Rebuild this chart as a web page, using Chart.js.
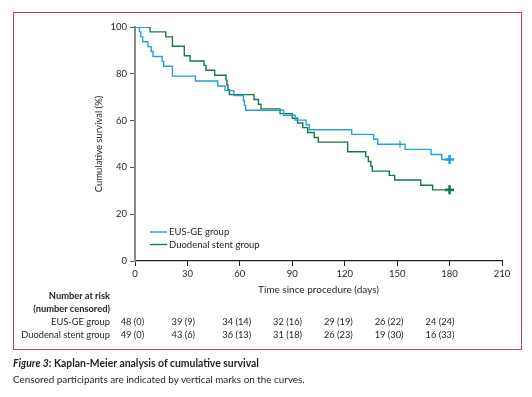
<!DOCTYPE html>
<html>
<head>
<meta charset="utf-8">
<script src="https://cdn.jsdelivr.net/npm/chart.js@4/dist/chart.umd.min.js"></script>
<style>
body{margin:0;background:#fff;font-family:Lato,sans-serif;color:#231f20;}
#wrap{position:relative;width:532px;height:397px;overflow:hidden;}
#km{position:absolute;left:0;top:0;}
#frame{position:absolute;left:13px;top:12px;width:509px;height:338px;box-sizing:border-box;border:1.5px solid #d23d6b;pointer-events:none;}
.t{position:absolute;font-size:9.3px;line-height:12px;white-space:nowrap;}
.lab{right:422px;text-align:right;}
.b{font-weight:bold;}
.cap1{left:13px;top:357px;font-size:10.4px;font-weight:bold;}
.cap2{left:13px;top:373px;font-size:9.9px;}
</style>
</head>
<body>
<div id="wrap">
  <canvas id="km" width="532" height="300"></canvas>
  <div id="frame"></div>
  <div class="t lab b" style="top:290px">Number at risk</div>
  <div class="t lab b" style="top:303px">(number censored)</div>
  <div class="t lab" style="top:316px">EUS-GE group</div>
  <div class="t lab" style="top:329px">Duodenal stent group</div>
  <div class="t cap1"><i>Figure 3</i>: Kaplan-Meier analysis of cumulative survival</div>
  <div class="t cap2">Censored participants are indicated by vertical marks on the curves.</div>
</div>
<script>
// EUS-GE group (days, survival %)
var eusDays = [0, 2.5, 3.3, 4.4, 7.4, 9.3, 10.3, 15.6, 16.4, 21.4, 34.6, 47.3, 51.5, 56.6, 62.0, 62.6, 63.3, 85.0, 91.6, 97.9, 99.8, 124.0, 136.6, 138.9, 151.6, 154.5, 169.4, 175.5, 180];
var eusSurv = [100, 97.9, 95.8, 93.7, 91.6, 89.5, 87.4, 85.3, 83.2, 79.0, 76.9, 74.8, 72.8, 70.7, 68.6, 66.5, 64.4, 62.3, 60.2, 58.2, 56.1, 54.1, 52.0, 49.9, 49.9, 47.7, 45.5, 43.4, 43.4];
var eusCensorDays = [151.6];

// Duodenal stent group
var dsDays = [0, 8.6, 17.6, 21.4, 28.2, 31.5, 39.5, 40.6, 45.6, 52.1, 52.6, 53.2, 54.0, 68.1, 70.6, 72.1, 83.0, 90.0, 93.0, 96.0, 98.8, 102.6, 104.9, 121.7, 132.0, 133.5, 135.0, 135.8, 145.5, 148.6, 163.5, 170.3, 180];
var dsSurv = [100, 97.9, 95.8, 91.8, 87.7, 85.5, 83.6, 81.5, 79.4, 77.3, 75.2, 73.2, 71.1, 69.0, 67.0, 65.0, 63.0, 61.0, 59.0, 57.0, 54.9, 52.8, 50.8, 46.7, 44.6, 42.5, 40.5, 38.4, 36.6, 34.6, 32.4, 30.4, 30.4];
var dsCensorDays = [];

// number at risk table
var riskDays = [0, 30, 60, 90, 120, 150, 180];
var eusAtRisk = [48, 39, 34, 32, 29, 26, 24];
var eusCensored = [0, 9, 14, 16, 19, 22, 24];
var dsAtRisk = [49, 43, 36, 31, 26, 19, 16];
var dsCensored = [0, 6, 13, 18, 23, 30, 33];

var xTicks = [0, 30, 60, 90, 120, 150, 180, 210];
var yTicks = [0, 20, 40, 60, 80, 100];

var TXT = '#231f20';
var BLUE = '#22a3d3';
var GREEN = '#167a46';

function toPoints(days, surv){
	var pts = [];
	for(var i=0;i<days.length;i++){
		pts.push({x: days[i], y: surv[i]});
	}
	return pts;
}

function markStyle(days, censor){
	return {
		radius: function(c){
			var d = days[c.dataIndex];
			if(c.dataIndex == days.length-1) return 4.5;
			if(censor.indexOf(d) >= 0) return 3.5;
			return 0;
		},
		style: function(c){
			if(c.dataIndex == days.length-1) return 'cross';
			return 'line';
		},
		rotation: function(c){
			return c.dataIndex == days.length-1 ? 0 : 90;
		},
		width: function(c){
			return c.dataIndex == days.length-1 ? 2.6 : 1.2;
		}
	};
}

function makeDataset(label, days, surv, censor, color){
	var m = markStyle(days, censor);
	return {
		label: label,
		data: toPoints(days, surv),
		borderColor: color,
		backgroundColor: color,
		borderWidth: 1.4,
		stepped: true,
		fill: false,
		pointRadius: m.radius,
		pointStyle: m.style,
		pointRotation: m.rotation,
		pointBorderWidth: m.width,
		pointBorderColor: color
	};
}

// legend drawn inside the plot, bottom left
var kmLegend = {
	id: 'kmLegend',
	afterDatasetsDraw: function(chart){
		var ctx = chart.ctx;
		var a = chart.chartArea;
		var rows = [a.bottom - 29, a.bottom - 16.5];
		ctx.save();
		ctx.font = '9.5px Lato';
		ctx.textBaseline = 'middle';
		chart.data.datasets.forEach(function(ds, i){
			var y = rows[i];
			ctx.strokeStyle = ds.borderColor;
			ctx.lineWidth = 1.4;
			ctx.beginPath();
			ctx.moveTo(a.left + 15, y);
			ctx.lineTo(a.left + 32, y);
			ctx.stroke();
			ctx.fillStyle = TXT;
			ctx.fillText(ds.label, a.left + 34, y);
		});
		ctx.restore();
	}
};

var ctx = document.getElementById('km').getContext('2d');
var chart = new Chart(ctx, {
	type: 'line',
	data: {
		datasets: [
			makeDataset('EUS-GE group', eusDays, eusSurv, eusCensorDays, BLUE),
			makeDataset('Duodenal stent group', dsDays, dsSurv, dsCensorDays, GREEN)
		]
	},
	options: {
		responsive: false,
		animation: false,
		layout: {padding: {left: 90, top: 27, right: 30, bottom: 0}},
		plugins: {legend: {display: false}, tooltip: {enabled: false}},
		scales: {
			x: {
				type: 'linear', min: 0, max: 210,
				afterBuildTicks: function(s){ s.ticks = xTicks.map(function(v){return {value: v};}); },
				afterFit: function(s){ s.height = 39; },
				ticks: {color: TXT, font: {family: 'Lato', size: 9.5}, padding: 2, maxRotation: 0},
				grid: {drawOnChartArea: false, drawTicks: true, tickLength: 5, color: TXT, lineWidth: 1},
				border: {color: TXT, width: 1.2},
				title: {display: true, text: 'Time since procedure (days)', color: TXT, font: {family: 'Lato', size: 10}, padding: {top: 0, bottom: 4}}
			},
			y: {
				min: 0, max: 100,
				afterBuildTicks: function(s){ s.ticks = yTicks.map(function(v){return {value: v};}); },
				afterFit: function(s){ s.width = 45; },
				ticks: {color: TXT, font: {family: 'Lato', size: 9.5}, padding: 3},
				grid: {drawOnChartArea: false, drawTicks: true, tickLength: 5, color: '#555', lineWidth: 1},
				border: {color: '#8a8a8a', width: 2},
				title: {display: true, text: 'Cumulative survival (%)', color: TXT, font: {family: 'Lato', size: 9.5}, padding: {top: 3.6, bottom: 0}}
			}
		}
	},
	plugins: [kmLegend]
});

// number at risk values, under the axis
function addRiskRow(atRisk, censored, top){
	var wrap = document.getElementById('wrap');
	for(var i=0;i<riskDays.length;i++){
		var el = document.createElement('div');
		el.className = 't';
		el.style.top = top + 'px';
		el.style.left = (120.7 + i*50.8) + 'px';
		el.textContent = atRisk[i] + ' (' + censored[i] + ')';
		wrap.appendChild(el);
	}
}
addRiskRow(eusAtRisk, eusCensored, 316);
addRiskRow(dsAtRisk, dsCensored, 329);
</script>
</body>
</html>
